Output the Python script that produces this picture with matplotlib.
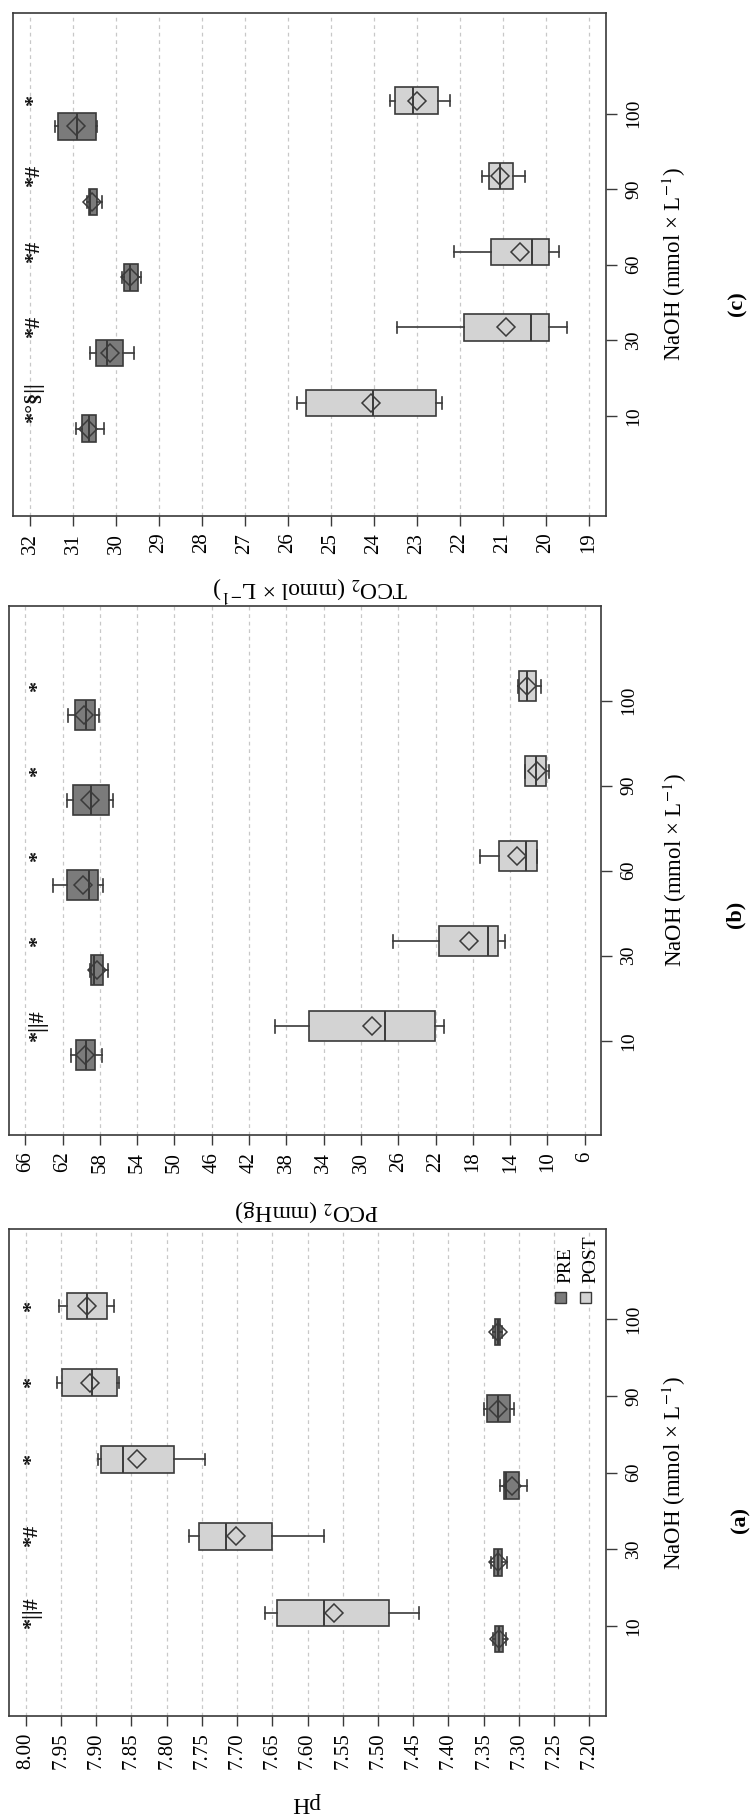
import matplotlib
matplotlib.use("Agg")
import matplotlib.pyplot as plt
import matplotlib.transforms as mtransforms
from matplotlib.patches import Rectangle

plt.rcParams['font.family'] = ['Liberation Serif', 'DejaVu Serif']
plt.rcParams['mathtext.fontset'] = 'stix'

# NaOH concentrations (categories)
naoh = ['10', '30', '60', '90', '100']

# box stats per group: whislo, q1, med, q3, whishi, mean
ph_pre = [[7.319, 7.322, 7.328, 7.334, 7.337, 7.328],
          [7.317, 7.324, 7.330, 7.336, 7.339, 7.330],
          [7.288, 7.300, 7.319, 7.321, 7.327, 7.310],
          [7.307, 7.313, 7.330, 7.345, 7.350, 7.330],
          [7.324, 7.327, 7.330, 7.334, 7.337, 7.330]]
ph_post = [[7.442, 7.485, 7.577, 7.643, 7.661, 7.563],
           [7.577, 7.651, 7.716, 7.754, 7.768, 7.702],
           [7.746, 7.789, 7.862, 7.893, 7.897, 7.842],
           [7.867, 7.870, 7.906, 7.948, 7.955, 7.909],
           [7.874, 7.884, 7.913, 7.942, 7.953, 7.913]]
ph_marks = ['*||#', '*#', '*', '*', '*']

pco2_pre = [[57.81, 58.48, 59.50, 60.52, 61.14, 59.60],
            [57.15, 57.66, 58.58, 58.94, 59.09, 58.30],
            [57.66, 58.17, 59.20, 61.50, 63.08, 59.86],
            [56.56, 57.02, 58.95, 60.92, 61.56, 59.06],
            [58.10, 58.53, 59.49, 60.67, 61.39, 59.70]]
pco2_post = [[21.12, 22.09, 27.46, 35.55, 39.23, 28.80],
             [14.57, 15.33, 16.36, 21.58, 26.54, 18.40],
             [11.14, 11.14, 12.26, 15.18, 17.23, 13.29],
             [9.80, 10.20, 11.20, 12.41, 12.41, 11.10],
             [10.70, 11.27, 12.20, 13.06, 13.20, 12.20]]
pco2_marks = ['*||#', '*', '*', '*', '*']

tco2_pre = [[30.28, 30.47, 30.63, 30.80, 30.94, 30.66],
            [29.58, 29.84, 30.22, 30.47, 30.60, 30.13],
            [29.43, 29.49, 29.67, 29.82, 29.86, 29.67],
            [30.33, 30.45, 30.60, 30.63, 30.68, 30.55],
            [30.45, 30.47, 30.90, 31.34, 31.42, 30.93]]
tco2_post = [[22.41, 22.56, 24.02, 25.58, 25.80, 24.07],
             [19.51, 19.93, 20.36, 21.91, 23.47, 20.93],
             [19.69, 19.93, 20.32, 21.28, 22.13, 20.61],
             [20.50, 20.77, 21.08, 21.32, 21.50, 21.06],
             [22.24, 22.52, 23.10, 23.51, 23.63, 23.00]]
tco2_marks = ['*°§||', '*#', '*#', '*#', '*']

ph_ticks = [8.00, 7.95, 7.90, 7.85, 7.80, 7.75, 7.70, 7.65, 7.60, 7.55,
            7.50, 7.45, 7.40, 7.35, 7.30, 7.25, 7.20]
pco2_ticks = [66, 62, 58, 54, 50, 46, 42, 38, 34, 30, 26, 22, 18, 14, 10, 6]
tco2_ticks = list(range(32, 18, -1))

W, H = 750, 1816
fig = plt.figure(figsize=(W / 100, H / 100), dpi=100)

EDGE = '#3a3a3a'
PRE_C = '#7b7b7b'
POST_C = '#d3d3d3'


def px_axes(left, top, right, bottom):
    return fig.add_axes([left / W, 1 - bottom / H, (right - left) / W, (bottom - top) / H])


def to_stats(rows):
    return [dict(whislo=r[0], q1=r[1], med=r[2], q3=r[3], whishi=r[4], mean=r[5], fliers=[])
            for r in rows]


def draw_panel(ax, pre, post, marks, ticks, fmt, xlim, ylim, mark_x):
    cats = list(range(1, len(naoh) + 1))
    for rows, color, off in ((pre, PRE_C, -0.17), (post, POST_C, 0.17)):
        ax.bxp(to_stats(rows), positions=[c + off for c in cats], widths=0.35,
               orientation='horizontal', patch_artist=True, showmeans=True,
               manage_ticks=False, capwidths=0.15,
               boxprops=dict(facecolor=color, edgecolor=EDGE, linewidth=1.2),
               medianprops=dict(color=EDGE, linewidth=1.4),
               whiskerprops=dict(color=EDGE, linewidth=1.2),
               capprops=dict(color=EDGE, linewidth=1.2),
               meanprops=dict(marker='D', markerfacecolor='none', markeredgecolor=EDGE,
                              markersize=9, markeredgewidth=1.1))
    trans = mtransforms.blended_transform_factory(ax.transAxes, ax.transData)
    for c, m in zip(cats, marks):
        ax.text(mark_x, c + 0.17, m, transform=trans, rotation=90, ha='center',
                va='center', fontsize=16, fontweight='bold', color='#111111')
    ax.set_xlim(*xlim)
    ax.set_ylim(*ylim)
    ax.set_xticks(ticks)
    ax.set_xticklabels([fmt.format(t) for t in ticks])
    ax.yaxis.tick_right()
    ax.set_yticks(cats)
    ax.set_yticklabels(naoh)
    ax.tick_params(axis='x', bottom=True, top=False, direction='out', length=7, width=1,
                   pad=5, labelsize=15, labelrotation=90, color=EDGE)
    ax.tick_params(axis='y', right=True, left=False, direction='out', length=8, width=1,
                   pad=6, labelsize=14, labelrotation=90, color=EDGE)
    for lab in ax.get_yticklabels():
        lab.set_va('center')
    ax.grid(axis='x', linestyle=(0, (3, 3)), color='#c8c8c8', linewidth=0.9)
    ax.set_axisbelow(True)
    for s in ax.spines.values():
        s.set_color(EDGE)
        s.set_linewidth(1.2)


# panel (c) at the top
ax_c = px_axes(13.3, 13.3, 606, 516)
draw_panel(ax_c, tco2_pre, tco2_post, tco2_marks, tco2_ticks, '{:d}',
           (32.39, 18.605), (-0.327, 6.327), 0.035)
# panel (b)
ax_b = px_axes(8.7, 605.7, 601, 1135)
draw_panel(ax_b, pco2_pre, pco2_post, pco2_marks, pco2_ticks, '{:d}',
           (67.78, 4.26), (-0.109, 6.118), 0.050)
# panel (a) at the bottom
ax_a = px_axes(9.3, 1229, 606, 1716)
draw_panel(ax_a, ph_pre, ph_post, ph_marks, ph_ticks, '{:.2f}',
           (8.0233, 7.1764), (-0.173, 6.173), 0.038)

# legend of panel (a), drawn rotated
for xc, xb, name, color in ((0.924, 0.940, 'PRE', PRE_C), (0.966, 0.982, 'POST', POST_C)):
    ax_a.add_patch(Rectangle((xc - 0.0092, 0.860 - 0.0113), 0.0184, 0.0226,
                             transform=ax_a.transAxes, facecolor=color, edgecolor=EDGE,
                             linewidth=1.0))
    ax_a.text(xb, 0.889, name, transform=ax_a.transAxes, rotation=90,
              rotation_mode='anchor', ha='left', va='baseline', fontsize=14)


def ftext(x, y, s, **kw):
    fig.text(x / W, 1 - y / H, s, ha='center', va='center', **kw)


xlab = 'NaOH (mmol × L$^{-1}$)'
ftext(674, 264.6, xlab, rotation=90, fontsize=16.5)
ftext(675, 870, xlab, rotation=90, fontsize=16.5)
ftext(674, 1473, xlab, rotation=90, fontsize=16.5)
ftext(737, 304, '(c)', rotation=90, fontsize=16, fontweight='bold')
ftext(735, 914, '(b)', rotation=90, fontsize=16, fontweight='bold')
ftext(740, 1520, '(a)', rotation=90, fontsize=16, fontweight='bold')
ftext(310, 588, 'TCO$_2$ (mmol × L$^{-1}$)', rotation=180, fontsize=17)
ftext(307, 1211, 'PCO$_2$ (mmHg)', rotation=180, fontsize=17)
ftext(306, 1803, 'pH', rotation=180, fontsize=17)

fig.savefig('out.png', dpi=100)
